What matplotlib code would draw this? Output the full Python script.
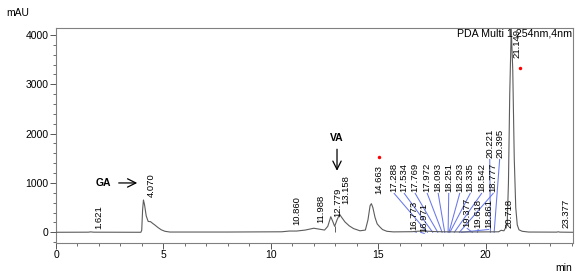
import numpy as np
import matplotlib.pyplot as plt
from matplotlib.ticker import MultipleLocator

plt.rcParams['font.family'] = ['Liberation Sans', 'DejaVu Sans']

# chromatogram trace (min, mAU)
trace_t = [0, 1.5, 1.62, 1.75, 3.95, 3.99, 4.03, 4.07, 4.12, 4.2, 4.29, 4.4,
           4.5, 4.6, 4.75, 4.9, 5.07, 5.3, 8.0, 10.5, 10.86, 11.2, 11.6, 12.0,
           12.3, 12.5, 12.65, 12.79, 12.9, 12.97, 13.08, 13.2, 13.3, 13.45,
           13.65, 13.85, 14.15, 14.4, 14.52, 14.62, 14.68, 14.75, 14.85, 14.95,
           15.07, 15.2, 15.4, 15.7, 16.6, 16.8, 17.0, 17.3, 17.6, 18.0, 18.5,
           19.0, 20.0, 20.6, 20.72, 20.85, 21.0, 21.06, 21.12, 21.19, 21.26,
           21.33, 21.4, 21.47, 21.55, 21.7, 22.0, 23.3, 23.38, 23.45, 24.05]
trace_v = [0, 2, 8, 2, 0, 40, 450, 655, 560, 330, 220, 215,
           180, 148, 95, 50, 20, 5, 5, 10, 25, 25, 45, 82,
           60, 45, 120, 316, 200, 120, 250, 365, 300, 210,
           130, 75, 30, 45, 250, 540, 580, 500, 300, 170,
           110, 55, 20, 8, 12, 20, 25, 22, 15, 10, 8,
           6, 8, 10, 40, 30, 150, 1000, 2800, 4120, 3300,
           1500, 500, 150, 50, 20, 5, 3, 10, 3, 0]

# peak retention times (labels)
peak_rt = [1.621, 4.070, 10.860, 11.988, 12.779, 13.158, 14.663, 20.718,
           23.377, 21.149]
# crowded peaks labelled with leader lines
crowd_rt = [16.773, 16.971, 17.288, 17.534, 17.769, 17.972, 18.093, 18.251,
            18.293, 18.335, 18.542, 18.777, 20.221, 20.395, 19.377, 19.618,
            18.861]

# label placement (layout)
peak_lx = [rt + 0.35 for rt in peak_rt[:-1]] + [21.47]
peak_ly = [67, 716, 150, 190, 310, 575, 777, 87, 87, 3535]
crowd_lx = [16.67, 17.14, 15.74, 16.21, 16.72, 17.28, 17.79, 18.28, 18.79,
            19.28, 19.81, 20.35, 20.19, 20.65, 19.14, 19.65, 20.14]
crowd_ly = [47, 6, 818, 818, 818, 818, 818, 818, 818, 818, 818, 818,
            1507, 1507, 108, 87, 87]

marker_t = [15.04, 21.61]
marker_v = [1521, 3339]

fig = plt.figure(figsize=(5.78, 2.76), dpi=100)
ax = fig.add_axes([0.0969, 0.1207, 0.8939, 0.779])

ax.plot(trace_t, trace_v, color='#5c5c5c', lw=0.8, zorder=3)
ax.vlines(12.97, 0, 120, color='#5c5c5c', lw=0.7)

for rt, lx, ly in zip(crowd_rt, crowd_lx, crowd_ly):
    ax.plot([lx, rt], [ly - 30, 0], color='#6878ea', lw=0.75, zorder=2)
    ax.text(lx, ly, f'{rt:.3f}', rotation=90, ha='center', va='bottom',
            fontsize=6.8)

for rt, lx, ly in zip(peak_rt, peak_lx, peak_ly):
    ax.text(lx, ly, f'{rt:.3f}', rotation=90, ha='center', va='bottom',
            fontsize=6.8, clip_on=False)

ax.plot(marker_t, marker_v, 'o', color='red', ms=2.5, mec='none', zorder=4)

# compound arrows
ax.text(2.19, 1000, 'GA', ha='center', va='center', fontsize=7.5,
        fontweight='bold')
ax.annotate('', xy=(3.91, 1000), xytext=(2.79, 1000),
            arrowprops=dict(arrowstyle='->,head_length=0.6,head_width=0.3',
                            color='black', lw=0.9))
ax.text(13.08, 1910, 'VA', ha='center', va='center', fontsize=7.5,
        fontweight='bold')
ax.annotate('', xy=(13.08, 1190), xytext=(13.08, 1740),
            arrowprops=dict(arrowstyle='->,head_length=0.6,head_width=0.3',
                            color='black', lw=0.9))

ax.text(0.999, 0.995, 'PDA Multi 1 254nm,4nm', transform=ax.transAxes,
        ha='right', va='top', fontsize=7.7, zorder=5)
fig.text(6 / 578, 1 - 12.5 / 276, 'mAU', ha='left', va='center', fontsize=7.5)
fig.text(564 / 578, 1 - 268 / 276, 'min', ha='center', va='center',
         fontsize=7.5)

ax.set_xlim(0, 24.05)
ax.set_ylim(-211, 4148)
ax.xaxis.set_major_locator(MultipleLocator(5))
ax.xaxis.set_minor_locator(MultipleLocator(1))
ax.yaxis.set_major_locator(MultipleLocator(1000))
ax.yaxis.set_minor_locator(MultipleLocator(200))
ax.tick_params(which='major', length=4, width=0.7, color='#555555',
               labelsize=7.5, pad=1.5)
ax.tick_params(which='minor', length=2.3, width=0.6, color='#555555')
for s in ax.spines.values():
    s.set_color('#808080')
    s.set_linewidth(0.8)

fig.savefig('out.png', dpi=100)
